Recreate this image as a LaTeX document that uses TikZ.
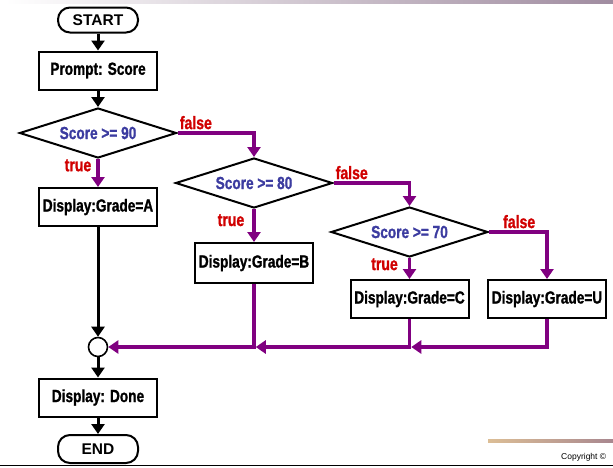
\documentclass[tikz,border=0pt]{standalone}
\usepackage{fontspec}
\setmainfont{Liberation Sans}
\newfontfamily\impfont{Liberation Sans}[FakeStretch=0.78, FakeBold=1.2]
\usetikzlibrary{arrows.meta,shapes.geometric}
\definecolor{flowpurple}{HTML}{800080}
\definecolor{lblred}{HTML}{D00000}
\definecolor{testblue}{HTML}{3C3CA0}
\definecolor{barlilac}{HTML}{A08CA0}
\definecolor{bartan}{HTML}{DCBE96}
\definecolor{barmauve}{HTML}{A8878F}

\begin{document}
\begin{tikzpicture}[x=1pt, y=-1pt,
      term/.style={draw, line width=2pt, rounded corners=12pt,
        minimum width=80pt, minimum height=25pt, inner sep=0pt,
        font=\bfseries\fontsize{15.5}{15.5}\selectfont},
      proc/.style={draw, line width=2pt, minimum width=118pt,
        minimum height=38pt, inner sep=0pt,
        font=\impfont\bfseries\fontsize{17.5}{17.5}\selectfont},
      test/.style={draw, diamond, aspect=3.1, line width=2pt,
        minimum width=157pt, minimum height=50pt, inner sep=0pt,
        text=testblue, font=\impfont\bfseries\fontsize{17.5}{17.5}\selectfont},
      joint/.style={draw, circle, line width=1.6pt, minimum size=19pt,
        inner sep=0pt},
      go/.style={line width=3pt, -{Triangle[length=10pt, width=13pt]}},
      branch/.style={draw=flowpurple, line width=3.5pt,
        -{Triangle[length=10pt, width=13pt]}},
      lbl/.style={text=lblred, inner sep=1pt,
        font=\impfont\bfseries\fontsize{18}{18}\selectfont},
    ]
    \useasboundingbox (0,0) rectangle (613,467);

    % Page trim
    \shade[left color=white, right color=barlilac] (5,0) rectangle (613,3.5);
    \shade[left color=bartan, right color=barmauve]
      (488,439.5) rectangle (613,442.5);
    \draw[line width=1.5pt] (0,465.5) -- (613,465.5);
    \node[anchor=base west, inner sep=0pt, font=\fontsize{8.5}{9}\selectfont]
      (copy) at (561,459) {Copyright ©};

    % Main column
    \node[term] (start) at (98,20) {START};
    \node[proc] (prompt) at (98,70.5) {Prompt: Score};
    \node[test] (t90) at (98,133) {Score >= 90};
    \node[proc] (gA) at (98,207) {Display:Grade=A};
    \node[joint] (join) at (98,347) {};
    \node[proc] (done) at (98,397.5) {Display: Done};
    \node[term, minimum height=28pt] (end) at (98,449) {END};

    % Nested tests
    \node[test] (t80) at (254,183) {Score >= 80};
    \node[proc, minimum height=40pt] (gB) at (254,263) {Display:Grade=B};
    \node[test] (t70) at (409.5,232) {Score >= 70};
    \node[proc] (gC) at (409.5,299) {Display:Grade=C};
    \node[proc] (gU) at (547,299) {Display:Grade=U};

    \draw[go] (start) -- (prompt);
    \draw[go] (prompt) -- (t90);

    % true / false branches
    \draw[branch] (t90.south) -- node[lbl, left, pos=0.23, xshift=-4pt]
      {true} (gA.north);
    \draw[branch] (t90.east) -| node[lbl, above, pos=0.12, yshift=1pt]
      {false} (t80.north);
    \draw[branch] (t80.south) -- node[lbl, left, pos=0.34, xshift=-7pt]
      {true} (gB.north);
    \draw[branch] (t80.east) -| node[lbl, above, pos=0.12, yshift=1pt]
      {false} (t70.north);
    \draw[branch] (t70.south) -- node[lbl, left, pos=0.3, xshift=-9pt]
      {true} (gC.north);
    \draw[branch] (t70.east) -| node[lbl, above, pos=0.26, yshift=1pt]
      {false} (gU.north);

    % Merge
    \coordinate (mB) at (gB.south |- join);
    \coordinate (mC) at (gC.south |- join);
    \draw[go] (gA) -- (join);
    \draw[branch] (gB.south) |- (join);
    \draw[branch, shorten >=1.75pt] (gC.south) |- (mB);
    \draw[branch, shorten >=1.75pt] (gU.south) |- (mC);
    \draw[go] (join) -- (done);
    \draw[go] (done) -- (end);
  \end{tikzpicture}
\end{document}
